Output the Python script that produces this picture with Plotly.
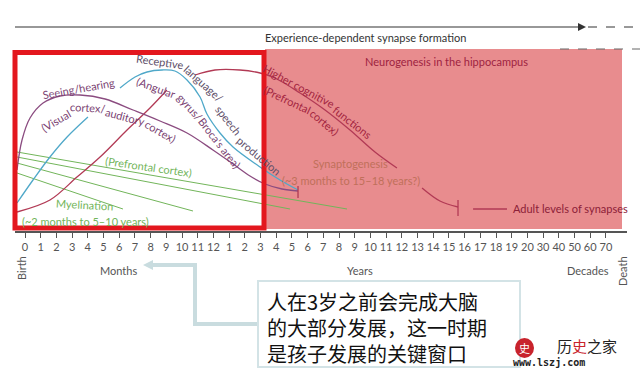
import plotly.graph_objects as go

# ---------------- data ----------------
tick_labels = [str(m) for m in range(0, 13)] + [str(y) for y in range(1, 21)] + ["30", "40", "50", "60", "70"]
tick_index = list(range(len(tick_labels)))

# curves: x in tick-index units, y = relative level above the axis
seeing_x = [-0.51, -0.19, 0.32, 1.15, 2.23, 3.50, 5.10, 6.88, 8.60, 10.32, 11.97, 13.25, 14.33, 15.29, 16.37, 17.39]
seeing_y = [62, 92, 114, 129, 136, 137, 133, 122, 111, 99, 82, 68, 56, 48, 43, 41]

language_x = [-0.51, 0.51, 1.59, 2.68, 4.01, None, 6.05, 7.01, 7.77, 8.73, 9.55, 10.32, 11.15, 11.59, 12.42, 13.25, 14.97, 16.24, 17.39]
language_y = [29, 52, 75, 95, 115, None, 144, 155, 160, 162, 161, 152, 135, 118, 99, 85, 65, 52, 42]

cognitive_x = [-0.51, 1.59, 3.31, 4.78, 6.50, 7.96, 9.04, None, 10.83, 12.10, 13.69, 14.97, 15.92, 17.52, 19.11, 20.70, 22.29, 23.69, None, 25.29, 26.43, 27.58]
cognitive_y = [20, 32, 55, 75, 102, 124, 142, None, 157, 162, 162, 159, 154, 139, 122, 102, 80, 64, None, 44, 31, 25]

myelin_x = [[-0.51, 20.51], [-0.51, 16.88], [-0.51, 10.70], [-0.51, 6.24]]
myelin_y = [[80, 23], [75, 23], [69, 21], [59, 23]]

end_bars_x = [17.39, 17.39, None, 27.58, 27.58]
end_bars_y = [34, 46, None, 16, 32]
adult_x = [28.54, 30.70]
adult_y = [23, 23]

# ---------------- style ----------------
W, H = 640, 381
PURPLE = "#8B4C80"
BLUE = "#4FA8C9"
DRED = "#B23A55"
GREEN = "#72B55A"
PINK = "#E88C8E"
RED = "#E3171E"
GREY = "#555555"
FONT = "Lato"


def px(x):
    return x / W


def py(y):
    return 1 - y / H


fig = go.Figure()

for xs, ys in zip(myelin_x, myelin_y):
    fig.add_trace(go.Scatter(x=xs, y=ys, mode="lines", line=dict(color=GREEN, width=1), hoverinfo="skip"))

fig.add_trace(go.Scatter(x=cognitive_x, y=cognitive_y, mode="lines", line=dict(color=DRED, width=1.3, shape="spline"), connectgaps=False))
fig.add_trace(go.Scatter(x=language_x, y=language_y, mode="lines", line=dict(color=BLUE, width=1.3, shape="spline"), connectgaps=False))
fig.add_trace(go.Scatter(x=seeing_x, y=seeing_y, mode="lines", line=dict(color=PURPLE, width=1.3, shape="spline")))
fig.add_trace(go.Scatter(x=end_bars_x, y=end_bars_y, mode="lines", line=dict(color=DRED, width=1.3)))
fig.add_trace(go.Scatter(x=adult_x, y=adult_y, mode="lines", line=dict(color=DRED, width=1.3)))

shapes = []
# pink region (3 years to death)
shapes.append(dict(type="rect", xref="paper", yref="paper", x0=px(265), x1=px(622), y0=py(229), y1=py(49),
                   fillcolor=PINK, line=dict(width=0), layer="below"))
# dashed continuation top of pink
shapes.append(dict(type="line", xref="paper", yref="paper", x0=px(560), x1=px(640), y0=py(49), y1=py(49),
                   line=dict(color="#666", width=1, dash="dash")))
# top arrow
shapes.append(dict(type="line", xref="paper", yref="paper", x0=px(15), x1=px(579), y0=py(27), y1=py(27),
                   line=dict(color="#333", width=1.2)))
shapes.append(dict(type="path", xref="paper", yref="paper",
                   path=f"M {px(578)},{py(23)} L {px(586)},{py(27)} L {px(578)},{py(31)} Z",
                   fillcolor="#333", line=dict(width=0)))
shapes.append(dict(type="line", xref="paper", yref="paper", x0=px(588), x1=px(640), y0=py(27), y1=py(27),
                   line=dict(color="#333", width=1, dash="dash")))
# red highlight box
shapes.append(dict(type="rect", xref="paper", yref="paper", x0=px(15), x1=px(264), y0=py(228), y1=py(52.5),
                   line=dict(color=RED, width=5), fillcolor="rgba(0,0,0,0)", layer="above"))
# callout connector
conn = f"M {px(258)},{py(324)} L {px(195)},{py(324)} L {px(195)},{py(265)} L {px(152)},{py(265)}"
shapes.append(dict(type="path", xref="paper", yref="paper", path=conn, line=dict(color="#C9DCDF", width=4)))
shapes.append(dict(type="path", xref="paper", yref="paper",
                   path=f"M {px(143)},{py(265)} L {px(153)},{py(260)} L {px(153)},{py(270)} Z",
                   fillcolor="#C9DCDF", line=dict(width=0)))
# callout box
shapes.append(dict(type="rect", xref="paper", yref="paper", x0=px(258), x1=px(520), y0=py(367), y1=py(281),
                   line=dict(color="#D3E3E6", width=2), fillcolor="white"))
# watermark seal
shapes.append(dict(type="circle", xref="paper", yref="paper", x0=px(515), x1=px(534), y0=py(358), y1=py(338),
                   fillcolor="#C8232C", line=dict(width=0)))

ann = []


def label(text, x, y, angle=0, color=GREY, size=11, xanchor="center", family=FONT):
    ann.append(dict(text=text, x=px(x), y=py(y), xref="paper", yref="paper", showarrow=False,
                    textangle=angle, xanchor=xanchor, yanchor="middle",
                    font=dict(family=family, size=size, color=color)))


CS = 11  # curve label size
PTXT = "#7A3F72"
RTXT = "#5E4E68"
# curve labels
label("Seeing/hearing", 78, 88, -10, PTXT, CS)
label("(Visual", 56, 121, -30, PTXT, CS)
label("cortex/", 88, 108, 3, PTXT, CS)
label("auditory", 125, 116, 15, PTXT, CS)
label("cortex)", 161, 131, 30, PTXT, CS)

label("Receptive", 160, 62, 8, RTXT, CS)
label("language/", 204, 83, 42, RTXT, CS)
label("speech", 229, 120, 52, RTXT, CS)
label("production", 259, 155, 40, RTXT, CS)

label("(Angular", 156, 87, 20, PTXT, CS)
label("gyrus/", 190, 106, 48, PTXT, CS)
label("Broca's area)", 219, 143, 52, PTXT, CS)

label("Higher cognitive", 298, 86, 28, "#A3243F", CS)
label("functions", 353, 122, 38, "#A3243F", CS)
label("(Prefrontal", 287, 99, 25, "#A3243F", CS)
label("cortex)", 325, 122, 40, "#A3243F", CS)

label("(Prefrontal cortex)", 148, 166, 8, GREEN, 11)
label("Myelination", 84, 204, 3, GREEN, 11)
label("(~2 months to 5–10 years)", 85, 221, 0, GREEN, 11)

label("Synaptogenesis", 350, 163, 0, "#C0705A", 11)
label("(~3 months to 15–18 years?)", 351, 180, 0, "#C0705A", 11)
label("Neurogenesis in the hippocampus", 446, 62, 0, "#9E2341", 11)
label("Adult levels of synapses", 511, 209, 0, "#8C2038", 11, xanchor="left")
label("Experience-dependent synapse formation", 365, 38, 0, "#333333", 11)

# axis captions
label("Birth", 21, 268, -90, GREY, 11)
label("Months", 118, 270, 0, GREY, 11)
label("Years", 360, 270, 0, GREY, 11)
label("Decades", 588, 270, 0, GREY, 11)
label("Death", 622, 271, -90, GREY, 11)

# callout text
CJK = "Noto Sans CJK SC"
ann.append(dict(text="人在3岁之前会完成大脑<br>的大部分发展，这一时期<br>是孩子发展的关键窗口",
                x=px(265), y=py(327), xref="paper", yref="paper", showarrow=False,
                xanchor="left", yanchor="middle", align="left",
                font=dict(family=CJK, size=20, color="#111")))

# watermark
label("史", 524.5, 348, 0, "white", 11, family=CJK)
label("历<span style='color:#C8232C'>史</span>之家", 587, 345, 0, "#222", 15, family=CJK)
ann.append(dict(text="<b>www.lszj.com</b>", x=px(587), y=py(370), xref="paper", yref="paper", showarrow=False,
                font=dict(family="DejaVu Sans Mono", size=10, color="#222")))

fig.update_layout(
    width=W, height=H,
    margin=dict(l=0, r=0, t=0, b=0, pad=0),
    paper_bgcolor="white", plot_bgcolor="rgba(0,0,0,0)",
    showlegend=False,
    shapes=shapes, annotations=ann,
    xaxis=dict(domain=[15 / W, 627 / W], range=[-10 / 15.7, -10 / 15.7 + 612 / 15.7],
               anchor="free", position=(H - 232) / H,
               tickmode="array", tickvals=tick_index, ticktext=tick_labels,
               ticks="outside", ticklen=5, tickcolor=GREY, tickwidth=1,
               showline=True, linecolor=GREY, linewidth=1.5,
               showgrid=False, zeroline=False,
               tickfont=dict(family=FONT, size=11, color=GREY)),
    yaxis=dict(domain=[0, 1], range=[-149, 232], visible=False, showgrid=False, zeroline=False),
)

fig.write_html("out.html", config={"displayModeBar": False},
               post_script="document.body.style.margin='0px';document.body.style.overflow='hidden';")
